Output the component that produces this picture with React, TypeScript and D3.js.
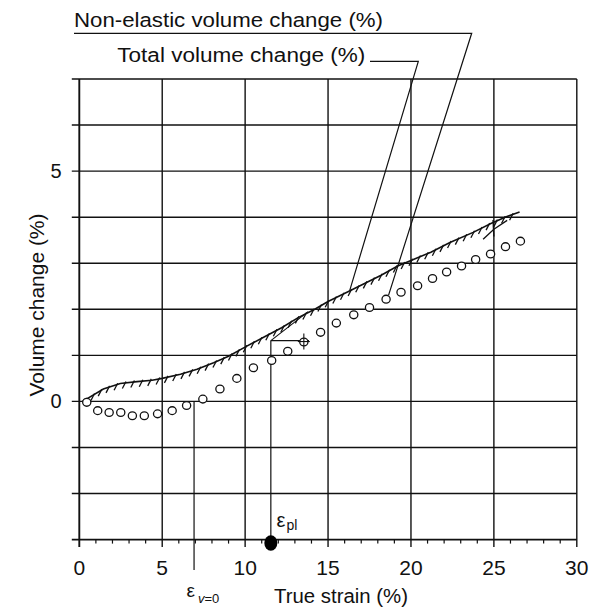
import React from "react";
import * as d3 from "d3";

// ---------- data ----------
const xMajorTicks = [0, 5, 10, 15, 20, 25, 30];
const xMinorTicks = d3.range(0, 31, 1);
const yGridValues = [-3, -2, -1, 0, 1, 2, 3, 4, 5, 6, 7];
const yLabelValues = [5, 0];

// Total volume change (hatched trace)
const totalStrain = [0.2, 1.45, 2.47, 3.48, 4.39, 5.0, 6.1, 7.1, 8.1, 9.0, 10.1, 11.2, 12.2, 13.2, 14.2, 15.0, 16.2, 17.2, 18.2, 19.2, 20.0, 21.2, 22.35, 23.75, 24.85, 25.75, 26.55];
const totalVolume = [0.0, 0.27, 0.39, 0.43, 0.46, 0.5, 0.59, 0.7, 0.84, 0.98, 1.2, 1.41, 1.6, 1.82, 2.0, 2.17, 2.38, 2.56, 2.74, 2.94, 3.06, 3.24, 3.45, 3.67, 3.87, 4.01, 4.11];
// unloading / reloading strands near 25 %
const unloadStrain = [24.95, 25.0];
const unloadVolume = [3.94, 3.58];
const reloadStrain = [24.35, 25.0, 25.8];
const reloadVolume = [3.52, 3.74, 3.93];

// Non-elastic volume change (open circles)
const nonElasticStrain = [0.45, 1.11, 1.8, 2.5, 3.2, 3.92, 4.72, 5.6, 6.47, 7.45, 8.48, 9.5, 10.5, 11.6, 12.57, 13.54, 14.55, 15.5, 16.55, 17.5, 18.5, 19.4, 20.4, 21.3, 22.15, 23.05, 23.9, 24.8, 25.7, 26.6];
const nonElasticVolume = [-0.02, -0.2, -0.24, -0.24, -0.31, -0.31, -0.27, -0.2, -0.09, 0.05, 0.27, 0.5, 0.73, 0.89, 1.09, 1.29, 1.5, 1.7, 1.88, 2.04, 2.22, 2.37, 2.51, 2.67, 2.81, 2.94, 3.08, 3.2, 3.36, 3.48];

// construction values
const epsV0 = 6.92;
const epsPl = 11.55;
const epsPlVolume = 1.32;
const crossStrain = 13.54;
const crossVolume = 1.3;
const constructionEndStrain = 13.85;
const tangentEnd = [13.8, 1.95];
const nonElasticLeaderTarget = [18.5, 2.22];
const totalLeaderTarget = [16.3, 2.4];

const FONT = "'Liberation Sans', Arial, Helvetica, sans-serif";

export default function App() {
  const x = d3.scaleLinear().domain([0, 30]).range([79.3, 576.8]);
  const y = d3.scaleLinear().domain([-3, 7]).range([539.6, 79]);

  const totalPts: [number, number][] = totalStrain.map((s, i) => [x(s), y(totalVolume[i])]);
  const line = d3.line();
  const totalPath = line(totalPts) || "";
  const unloadPath = line(unloadStrain.map((s, i) => [x(s), y(unloadVolume[i])] as [number, number])) || "";
  const reloadPath = line(reloadStrain.map((s, i) => [x(s), y(reloadVolume[i])] as [number, number])) || "";

  // hatch style: short slanted strokes every few pixels along the trace
  const hatches: [number, number][] = [];
  {
    const step = 8.5;
    let carry = 4;
    for (let i = 0; i < totalPts.length - 1; i++) {
      const [x0, y0] = totalPts[i];
      const [x1, y1] = totalPts[i + 1];
      const len = Math.hypot(x1 - x0, y1 - y0);
      let d = carry;
      while (d < len) {
        const t = d / len;
        hatches.push([x0 + (x1 - x0) * t, y0 + (y1 - y0) * t]);
        d += step;
      }
      carry = d - len;
    }
  }

  const stroke = "#111";
  const left = x(0), right = x(30), top = y(7), bottom = y(-3);

  return (
    <svg width={599} height={610} viewBox="0 0 599 610" style={{ display: "block", position: "absolute", left: 0, top: 0, background: "#fff" }}>
      <rect x={0} y={0} width={599} height={610} fill="#fff" />
      {/* horizontal gridlines with left ticks */}
      {yGridValues.map((v) => (
        <line key={"gy" + v} x1={left - 7.5} x2={right} y1={y(v)} y2={y(v)} stroke={stroke} strokeWidth={v === -3 ? 1.9 : 1.4} />
      ))}
      {/* vertical gridlines */}
      {xMajorTicks.map((v) => (
        <line key={"gx" + v} x1={x(v)} x2={x(v)} y1={top} y2={bottom + 7.5} stroke={stroke} strokeWidth={v === 0 ? 1.9 : 1.4} />
      ))}
      {/* minor ticks */}
      {xMinorTicks.filter((v) => v % 5 !== 0).map((v) => (
        <line key={"mx" + v} x1={x(v)} x2={x(v)} y1={bottom} y2={bottom + 4} stroke={stroke} strokeWidth={1.2} />
      ))}

      {/* x tick labels */}
      {xMajorTicks.map((v) => (
        <text key={"tx" + v} x={x(v)} y={575} textAnchor="middle" fontFamily={FONT} fontSize={21} fill="#111">{v}</text>
      ))}
      {/* y tick labels */}
      {yLabelValues.map((v) => (
        <text key={"ty" + v} x={56} y={y(v) + 7} textAnchor="middle" fontFamily={FONT} fontSize={20} fill="#111">{v}</text>
      ))}

      {/* axis titles */}
      <text x={274} y={602.5} fontFamily={FONT} fontSize={20} textLength={134} lengthAdjust="spacingAndGlyphs" fill="#111">True strain (%)</text>
      <text transform="translate(44,305) rotate(-90)" textAnchor="middle" fontFamily={FONT} fontSize={20} textLength={183} lengthAdjust="spacingAndGlyphs" fill="#111">Volume change (%)</text>

      {/* legend labels */}
      <text x={74} y={26.7} fontFamily={FONT} fontSize={20.5} textLength={309} lengthAdjust="spacingAndGlyphs" fill="#111">Non-elastic volume change (%)</text>
      <text x={117.3} y={62.3} fontFamily={FONT} fontSize={19.5} textLength={248} lengthAdjust="spacingAndGlyphs" fill="#111">Total volume change (%)</text>
      <polyline points={`74,33.3 471.7,33.3 ${x(nonElasticLeaderTarget[0]) + 2.5},${y(nonElasticLeaderTarget[1]) - 4}`} fill="none" stroke={stroke} strokeWidth={1.2} />
      <polyline points={`370,61.3 418.3,61.3 ${x(totalLeaderTarget[0])},${y(totalLeaderTarget[1])}`} fill="none" stroke={stroke} strokeWidth={1.2} />

      {/* total volume change trace */}
      <path d={totalPath} fill="none" stroke={stroke} strokeWidth={1.6} />
      <path d={unloadPath} fill="none" stroke={stroke} strokeWidth={1.4} />
      <path d={reloadPath} fill="none" stroke={stroke} strokeWidth={1.3} />
      {hatches.map(([hx, hy], i) => (
        <line key={"h" + i} x1={hx + 1.2} y1={hy - 1.5} x2={hx - 2.4} y2={hy + 5.5} stroke={stroke} strokeWidth={1.3} />
      ))}

      {/* construction lines */}
      <line x1={x(epsV0)} x2={x(epsV0)} y1={y(0)} y2={570} stroke={stroke} strokeWidth={1.2} />
      <line x1={x(epsPl)} x2={x(epsPl)} y1={y(epsPlVolume)} y2={bottom} stroke={stroke} strokeWidth={1.2} />
      <line x1={x(epsPl)} x2={x(constructionEndStrain)} y1={y(epsPlVolume)} y2={y(epsPlVolume)} stroke={stroke} strokeWidth={1.2} />
      <line x1={x(epsPl)} y1={y(epsPlVolume)} x2={x(tangentEnd[0])} y2={y(tangentEnd[1])} stroke={stroke} strokeWidth={1.1} />

      {/* non-elastic volume change circles */}
      {nonElasticStrain.map((s, i) => (
        <ellipse key={"c" + i} cx={x(s)} cy={y(nonElasticVolume[i])} rx={4.1} ry={3.9} fill="#fff" stroke={stroke} strokeWidth={1.3} />
      ))}
      {/* crosshair marker */}
      <line x1={x(crossStrain)} x2={x(crossStrain)} y1={y(crossVolume) - 8} y2={y(crossVolume) + 8} stroke={stroke} strokeWidth={1.1} />
      <line x1={x(crossStrain) - 6} x2={x(crossStrain) + 6} y1={y(crossVolume)} y2={y(crossVolume)} stroke={stroke} strokeWidth={1.1} />

      {/* epsilon_pl marker */}
      <ellipse cx={x(epsPl)} cy={543} rx={6.5} ry={7.8} fill="#000" />
      <text x={276.5} y={526.7} fontFamily={FONT} fontSize={20} fill="#111">ε</text>
      <text x={286.5} y={530} fontFamily={FONT} fontSize={14} fill="#111">pl</text>

      {/* epsilon_v=0 label */}
      <text x={186.5} y={597} fontFamily={FONT} fontSize={19} fill="#111">ε</text>
      <text x={198} y={603} fontFamily={FONT} fontSize={13} fill="#111"><tspan fontStyle="italic">v</tspan>=0</text>
    </svg>
  );
}
